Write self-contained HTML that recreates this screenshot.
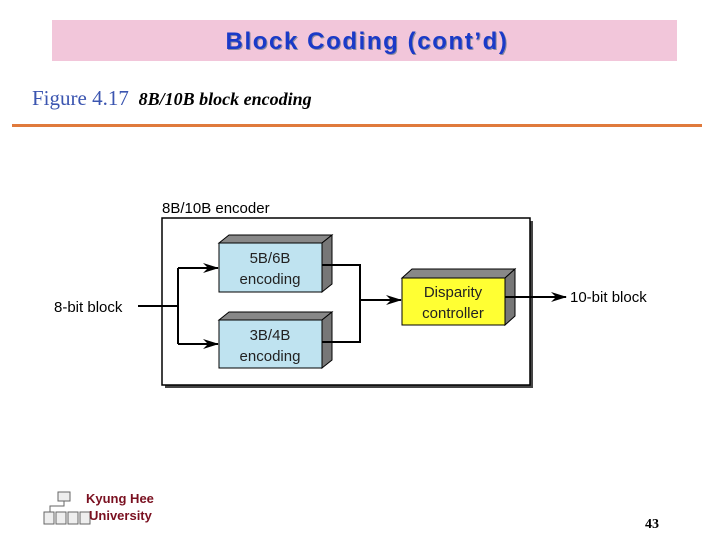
<!DOCTYPE html>
<html><head><style>
body{margin:0;width:720px;height:540px;background:#fff;position:relative;overflow:hidden;font-family:"Liberation Sans",sans-serif}
.t{position:absolute}
</style></head><body>
<div class="t" style="left:52px;top:20px;width:625px;height:41px;background:#f2c6da"></div>
<div class="t" style="left:0;width:734px;top:28px;text-align:center;font-weight:bold;font-size:24px;letter-spacing:1.6px;color:#1a3ac8;text-shadow:1px 1px 0 #8a8aa0">Block Coding (cont’d)</div>
<div class="t" style="left:32px;top:86px;font-family:'Liberation Serif',serif;font-size:21px;color:#3b55b0">Figure 4.17 <span style="font-style:italic;font-weight:bold;font-size:18px;color:#000">&nbsp;8B/10B block encoding</span></div>
<div class="t" style="left:12px;top:124px;width:690px;height:3px;background:#e07a3c"></div>
<svg class="t" style="left:0;top:0" width="720" height="540" font-family="Liberation Sans, sans-serif">
<defs><marker id="a" markerWidth="16" markerHeight="10" refX="15" refY="5" orient="auto" markerUnits="userSpaceOnUse"><path d="M0,0 L16,5 L0,10 L5,5z" fill="#000"/></marker></defs>
<text x="162" y="213" font-size="15">8B/10B encoder</text>
<rect x="165" y="221" width="368" height="167" fill="#444"/>
<rect x="162" y="218" width="368" height="167" fill="#fff" stroke="#000" stroke-width="1.5"/>
<g stroke="#000" stroke-width="1">
<polygon points="219,243 229,235 332,235 322,243" fill="#888"/>
<polygon points="322,243 332,235 332,284 322,292" fill="#777"/>
<rect x="219" y="243" width="103" height="49" fill="#bfe3f0"/>
<polygon points="219,320 229,312 332,312 322,320" fill="#888"/>
<polygon points="322,320 332,312 332,360 322,368" fill="#777"/>
<rect x="219" y="320" width="103" height="48" fill="#bfe3f0"/>
<polygon points="402,278 412,269 515,269 505,278" fill="#888"/>
<polygon points="505,278 515,269 515,316 505,325" fill="#777"/>
<rect x="402" y="278" width="103" height="47" fill="#ffff33"/>
</g>
<g fill="#222" font-size="15" text-anchor="middle">
<text x="270" y="263">5B/6B</text><text x="270" y="284">encoding</text>
<text x="270" y="340">3B/4B</text><text x="270" y="361">encoding</text>
<text x="453" y="297">Disparity</text><text x="453" y="318">controller</text>
</g>
<g stroke="#000" stroke-width="2" fill="none">
<line x1="138" y1="306" x2="178" y2="306"/>
<polyline points="178,268 178,344"/>
<line x1="178" y1="268" x2="218" y2="268" marker-end="url(#a)"/>
<line x1="178" y1="344" x2="218" y2="344" marker-end="url(#a)"/>
<polyline points="322,265 360,265 360,342 322,342"/>
<line x1="360" y1="300" x2="401" y2="300" marker-end="url(#a)"/>
<line x1="505" y1="297" x2="566" y2="297" marker-end="url(#a)"/>
</g>
<text x="54" y="312" font-size="15">8-bit block</text>
<text x="570" y="302" font-size="15">10-bit block</text>
<g stroke="#666" fill="#eee" stroke-width="1">
<rect x="58" y="492" width="12" height="9"/>
<polyline points="64,501 64,506 50,506 50,512 M64,506 78,506 78,512 M57,506 57,512 M71,506 71,512" fill="none"/>
<rect x="44" y="512" width="10" height="12"/><rect x="56" y="512" width="10" height="12"/><rect x="68" y="512" width="10" height="12"/><rect x="80" y="512" width="10" height="12"/>
</g>
<text x="86" y="503" font-size="13" fill="#7a1020" font-weight="bold">Kyung Hee</text>
<text x="89" y="520" font-size="13" fill="#7a1020" font-weight="bold">University</text>
<text x="645" y="528" font-size="14" font-weight="bold" font-family="Liberation Serif, serif">43</text>
</svg>
</body></html>
